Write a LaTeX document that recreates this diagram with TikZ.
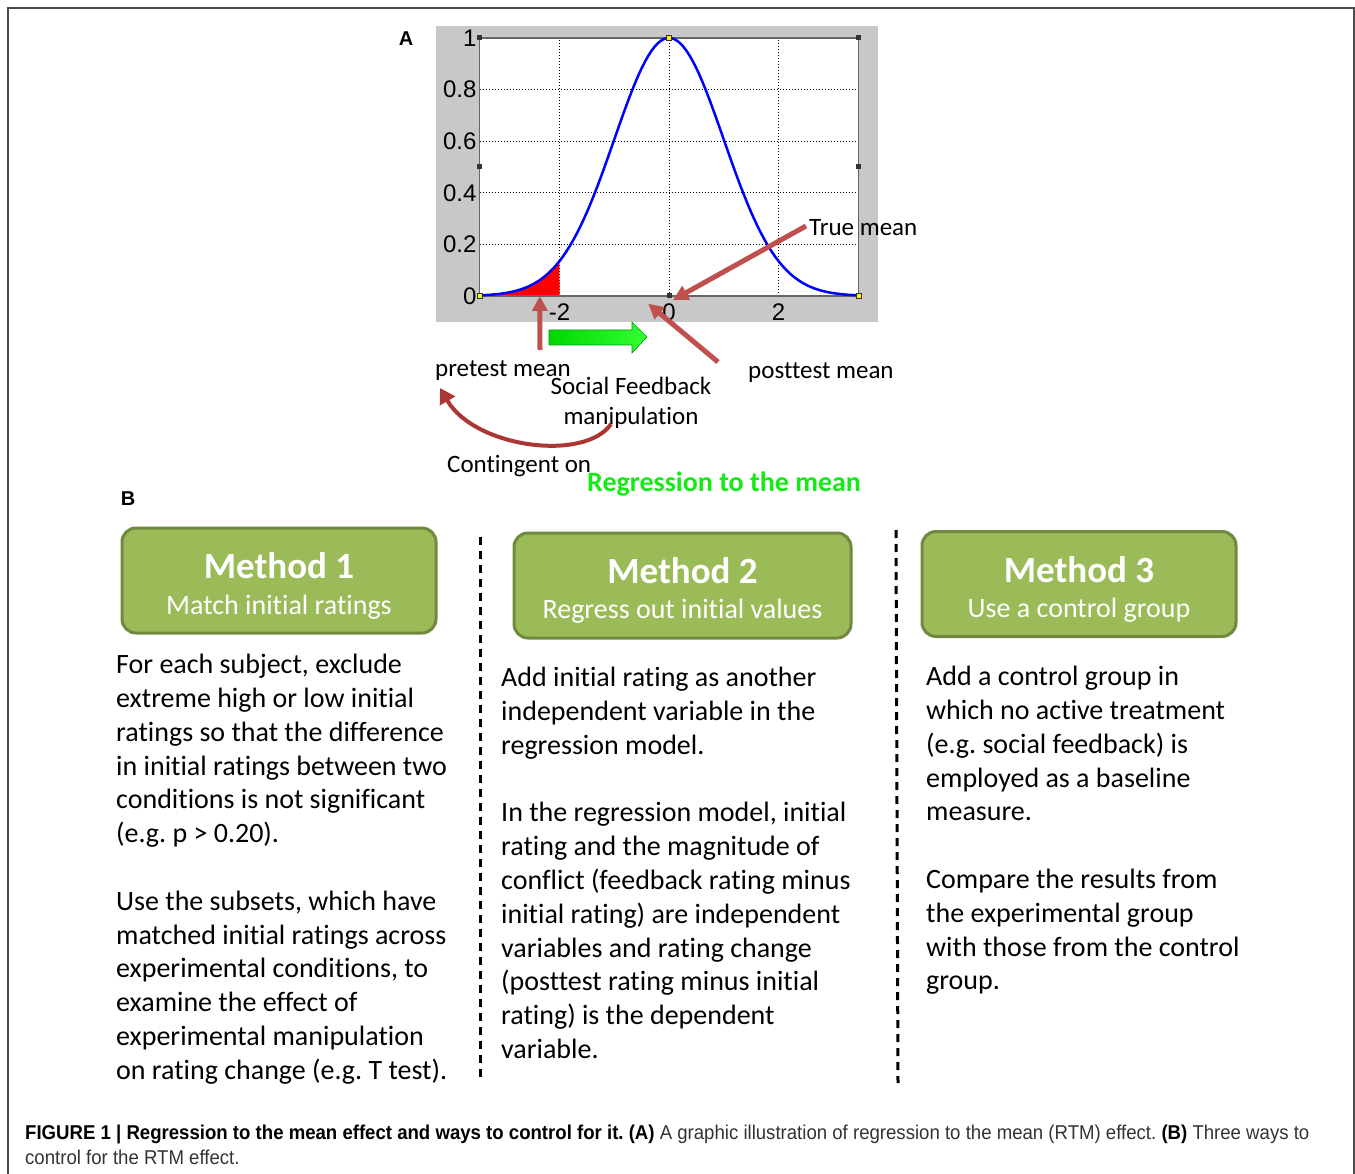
\documentclass[tikz,border=0pt]{standalone}
\usepackage{fontspec}
\setmainfont{Carlito}[Ligatures=NoCommon]
\newfontfamily\axisfont{Liberation Sans}
\newfontfamily\capfont[FakeStretch=0.93]{Liberation Sans}
\usetikzlibrary{arrows.meta}
\frenchspacing

\definecolor{plotbg}{RGB}{200,200,200}
\definecolor{boxfill}{RGB}{155,187,89}
\definecolor{boxline}{RGB}{113,137,63}
\definecolor{arrowred}{RGB}{192,80,77}
\definecolor{curvred}{RGB}{170,55,52}
\definecolor{rtmgreen}{RGB}{20,235,20}
\definecolor{capgray}{RGB}{51,51,51}

\tikzset{
  methodbox/.style={draw=boxline, fill=boxfill, line width=3pt, rounded corners=14pt,
    minimum width=#1, minimum height=105pt, inner sep=0pt},
  methodtitle/.style={anchor=base, text=white, inner sep=0pt, font=\fontsize{37}{44}\selectfont\bfseries},
  methodsub/.style={anchor=base, text=white, inner sep=0pt, font=\fontsize{28}{34}\selectfont},
  bodytext/.style={anchor=north west, align=left, inner sep=0pt, font=\fontsize{28}{33.8}\selectfont},
  plotlabel/.style={anchor=base west, inner sep=0pt, font=\fontsize{25}{30}\selectfont},
  ticklabel/.style={inner sep=0pt, font=\axisfont\fontsize{24}{26}\selectfont},
  redarrow/.style={draw=arrowred, line width=5pt, -{Triangle[length=15pt,width=15pt]}},
  sepline/.style={line width=3pt, dash pattern=on 8pt off 6pt},
  panel/.style={inner sep=0pt, font=\axisfont\fontsize{20}{24}\selectfont\bfseries},
}

\begin{document}
\begin{tikzpicture}[x=1pt, y=-1pt]
\useasboundingbox (0,0) rectangle (1355,1174);

% frame
\draw[line width=2pt, black!70] (8,1174) -- (8,8) -- (1354,8) -- (1354,1174);

% panel A: the plot
\node[panel] (labA) at (406,39) {A};
\fill[plotbg] (436,26) rectangle (878,322);
\begin{scope}[shift={(669pt,-296pt)}, x=54.75pt, y=258pt]
  \fill[white] (-3.46,0) rectangle (3.46,1);
  \foreach \gx in {-2,0,2}
    \draw[dotted, line width=1pt] (\gx,0) -- (\gx,1);
  \foreach \gy in {0.2,0.4,0.6,0.8}
    \draw[dotted, line width=1pt] (-3.46,\gy) -- (3.46,\gy);
  \fill[red] (-3.46,0) -- plot[domain=-3.46:-2, samples=40] (\x,{exp(-\x*\x/2)}) -- (-2,0) -- cycle;
  \draw[black!60, line width=1.2pt] (-3.46,0) rectangle (3.46,1);
  \draw[blue, line width=2.5pt] plot[domain=-3.46:3.46, samples=120] (\x,{exp(-\x*\x/2)});
  \foreach \hp in {(-3.46,1),(3.46,1),(-3.46,0.5),(3.46,0.5),(0,0)}
    \fill[black!80] \hp ++(-2.5pt,-2.5pt) rectangle ++(5pt,5pt);
  \foreach \hp in {(0,1),(-3.46,0),(3.46,0)}
    \filldraw[fill=yellow, draw=black!80, line width=0.6pt] \hp ++(-2.5pt,-2.5pt) rectangle ++(5pt,5pt);
  \foreach \v/\t in {0/0,0.2/0.2,0.4/0.4,0.6/0.6,0.8/0.8,1/1}
    \node[ticklabel, anchor=east] (yl\t) at ([xshift=-3pt]-3.46,\v) {\t};
  \foreach \u in {-2,0,2}
    \node[ticklabel, anchor=north] (xl\u) at ([yshift=-8pt]\u,0) {\u};
  \coordinate (origin) at (0,0);
  \coordinate (pretip) at (-2.36,0);
  \coordinate (posttip) at (-0.38,-0.03);
\end{scope}

% annotations
\node[plotlabel] (truemean) at (809,236) {True mean};
\node[plotlabel] (pretest) at (435,376) {pretest mean};
\node[plotlabel] (posttest) at (748,378) {posttest mean};
\node[plotlabel, anchor=base, align=center] (social) at (631,424) {Social Feedback\\manipulation};
\node[plotlabel] (contingent) at (447,472) {Contingent on};
\node[plotlabel, anchor=base west, text=rtmgreen, font=\fontsize{28}{30}\selectfont\bfseries] (rtm) at (587,491) {Regression to the mean};

\coordinate (tmstart) at (806,226);
\coordinate (prestart) at (540,350);
\coordinate (poststart) at (718,362);
\draw[redarrow] (tmstart) -- ([xshift=4pt,yshift=-4pt]origin);
\draw[redarrow] (prestart) -- (pretip);
\draw[redarrow] (poststart) -- (posttip);

% green block arrow
\shade[left color=green!85!black, right color=green!80!white, draw=green!60!black, line width=0.6pt]
  (549,330) -- (632,330) -- (632,322) -- (647,337) -- (632,353) -- (632,345) -- (549,345) -- cycle;

% curved arrow
\coordinate (curvstart) at (611,424);
\coordinate (curvend) at (440,388);
\draw[curvred, line width=4pt, -{Triangle[length=15pt,width=17pt]}]
  (curvstart) .. controls (585,462) and (475,448) .. (curvend);

% panel B
\node[panel] (labB) at (128,499) {B};

\node[methodbox=314pt] (m1) at (279,580.5) {};
\node[methodbox=337pt] (m2) at (682.5,585.5) {};
\node[methodbox=314pt] (m3) at (1079,584) {};
\node[methodtitle] (m1t) at (279,578) {Method 1};
\node[methodsub] (m1s) at (279,614) {Match initial ratings};
\node[methodtitle] (m2t) at (682.5,583) {Method 2};
\node[methodsub] (m2s) at (682.5,618) {Regress out initial values};
\node[methodtitle] (m3t) at (1079,582) {Method 3};
\node[methodsub] (m3s) at (1079,617) {Use a control group};

\draw[sepline] (480,537) -- (480,1078);
\draw[sepline] (896,530) -- (898,1083);

\node[bodytext] (c1) at (116,654) {For each subject, exclude\\
extreme high or low initial\\
ratings so that the difference\\
in initial ratings between two\\
conditions is not significant\\
(e.g. p > 0.20).\\[33.8pt]
Use the subsets, which have\\
matched initial ratings across\\
experimental conditions, to\\
examine the effect of\\
experimental manipulation\\
on rating change (e.g. T test).};

\node[bodytext] (c2) at (501,667) {Add initial rating as another\\
independent variable in the\\
regression model.\\[33.8pt]
In the regression model, initial\\
rating and the magnitude of\\
conflict (feedback rating minus\\
initial rating) are independent\\
variables and rating change\\
(posttest rating minus initial\\
rating) is the dependent\\
variable.};

\node[bodytext] (c3) at (926,666) {Add a control group in\\
which no active treatment\\
(e.g. social feedback) is\\
employed as a baseline\\
measure.\\[33.8pt]
Compare the results from\\
the experimental group\\
with those from the control\\
group.};

% caption
\node[anchor=base west, inner sep=0pt, text=capgray, font=\capfont\fontsize{20}{25}\selectfont] (cap1) at (25,1139)
  {\textcolor{black}{\bfseries FIGURE 1 | Regression to the mean effect and ways to control for it. (A)} A graphic illustration of regression to the mean (RTM) effect. \textcolor{black}{\bfseries (B)} Three ways to};
\node[anchor=base west, inner sep=0pt, text=capgray, font=\capfont\fontsize{20}{25}\selectfont] (cap2) at (25,1164)
  {control for the RTM effect.};

\end{tikzpicture}
\end{document}
